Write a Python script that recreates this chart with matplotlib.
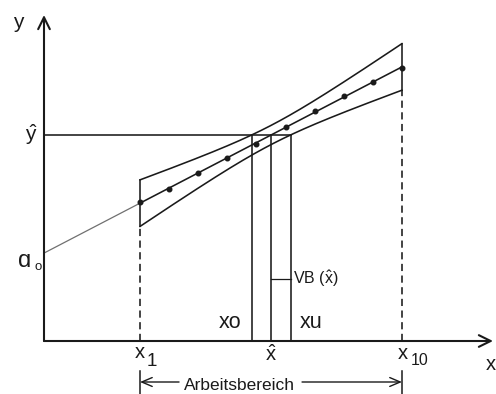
import numpy as np
import matplotlib
matplotlib.use("Agg")
import matplotlib.pyplot as plt
from matplotlib import font_manager

# ---------------- data ----------------
x_std = [3.3, 4.3, 5.3, 6.3, 7.3, 8.3, 9.3, 10.3, 11.3, 12.3]      # standards x1 .. x10
y_std = [4.78, 5.22, 5.77, 6.29, 6.77, 7.35, 7.90, 8.42, 8.90, 9.38]  # measured signals
y_hat = 7.08                 # measured signal of the sample
band_half_center = 0.33      # half width of confidence band at the centroid
band_half_end = 0.80         # half width of confidence band at x1 / x10
vb_level = 2.13              # height of the VB(x^) marker

# ---------------- layout ----------------
S = 29.1                      # pixels per data unit
X_LIM = (-44 / S, 452 / S)
Y_LIM = (-53 / S, 341 / S)
X_TIP = 449 / S
Y_TIP = 326 / S
INK = "#1a1a1a"

names = {f.name for f in font_manager.fontManager.ttflist}
MAIN = "Liberation Sans" if "Liberation Sans" in names else "DejaVu Sans"
NARROW = "Liberation Sans Narrow" if "Liberation Sans Narrow" in names else MAIN
narrow_size = 18 if NARROW != MAIN else 15.5

plt.rcParams["font.family"] = [MAIN, "DejaVu Sans"]
plt.rcParams["mathtext.fontset"] = "custom"
plt.rcParams["mathtext.rm"] = MAIN
plt.rcParams["mathtext.it"] = MAIN + ":italic"
plt.rcParams["mathtext.bf"] = MAIN + ":bold"

fig = plt.figure(figsize=(4.96, 3.94), dpi=100)
ax = fig.add_axes([0, 0, 1, 1])
ax.set_xlim(*X_LIM)
ax.set_ylim(*Y_LIM)
ax.axis("off")

xs = np.array(x_std)
ys = np.array(y_std)
b, a = np.polyfit(xs, ys, 1)
xm = xs.mean()
k = np.sqrt(band_half_end ** 2 - band_half_center ** 2) / (xs[-1] - xm)
xg = np.linspace(xs[0], xs[-1], 500)
fit = a + b * xg
half = np.sqrt(band_half_center ** 2 + (k * (xg - xm)) ** 2)
upper = fit + half
lower = fit - half
x_hat = (y_hat - a) / b
xo = np.interp(y_hat, upper, xg)
xu = np.interp(y_hat, lower, xg)

LW = 1.15
# axes with arrows
arrow_kw = dict(arrowstyle="->,head_length=0.85,head_width=0.42", lw=1.5,
                color=INK, shrinkA=0, shrinkB=0)
ax.annotate("", xy=(X_TIP, 0), xytext=(0, 0), arrowprops=arrow_kw)
ax.annotate("", xy=(0, Y_TIP), xytext=(0, 0), arrowprops=arrow_kw)

# extrapolation to the intercept a0
ax.plot([0, xs[0]], [a, a + b * xs[0]], color="#707070", lw=0.9)
# regression line and confidence band
ax.plot(xg, fit, color=INK, lw=LW)
ax.plot(xg, upper, color=INK, lw=LW)
ax.plot(xg, lower, color=INK, lw=LW)
# end lines of band
for i in (0, -1):
    ax.plot([xs[i], xs[i]], [lower[i], upper[i]], color=INK, lw=LW)
    ax.plot([xs[i], xs[i]], [0, lower[i]], color=INK, lw=LW,
            linestyle=(0, (4.5, 2.8)))
# calibration points
ax.plot(xs, ys, "o", ms=3.3, color=INK, mec=INK)
# y_hat construction
ax.plot([0, xu], [y_hat, y_hat], color=INK, lw=LW)
for xv in (xo, x_hat, xu):
    ax.plot([xv, xv], [0, y_hat], color=INK, lw=LW)
ax.plot([x_hat, xu], [vb_level, vb_level], color=INK, lw=0.9)


def lab(txt, xy, dx, dy, size=14.5, ha="center", va="baseline", family=None):
    ax.annotate(txt, xy=xy, xytext=(dx, dy), textcoords="offset pixels",
                ha=ha, va=va, fontsize=size, color=INK,
                family=family if family else [MAIN, "DejaVu Sans"])


lab("y", (0, Y_TIP), -26, -13, size=15)
lab(r"$\hat{\mathrm{y}}$", (0, y_hat), -13, 0, size=15, va="center")
lab("ɑ", (0, a), -19, -14, size=17)
lab("o", (0, a), -6, -17, size=9.5)
lab("x", (xs[0], 0), -5, -17, size=14.5, ha="left")
lab("1", (xs[0], 0), 6.5, -25, size=13.5, ha="left")
lab("x", (xs[-1], 0), -4, -18, size=14.5, ha="left")
lab("10", (xs[-1], 0), 8.5, -24, size=11.5, ha="left")
lab(r"$\hat{\mathrm{x}}$", (x_hat, 0), 0, -3, size=14.5, va="top")
lab("x", (X_TIP, 0), -2, -29, size=14.5)
lab("xo", (xo, 0), -10, 13, size=narrow_size, ha="right", family=[NARROW, "DejaVu Sans"])
lab("xu", (xu, 0), 9, 13, size=narrow_size, ha="left", family=[NARROW, "DejaVu Sans"])
lab(r"VB ($\hat{\mathrm{x}}$)", (xu, vb_level), 2.5, 0, size=11.5, ha="left", va="center")

# Arbeitsbereich
arb_y = -41 / S
tick_top = -30 / S
for xv in (xs[0], xs[-1]):
    ax.plot([xv, xv], [tick_top, Y_LIM[0]], color=INK, lw=1.1)
small_arrow = dict(arrowstyle="->,head_length=0.75,head_width=0.32", lw=1.0,
                   color=INK, shrinkA=0, shrinkB=0)
ax.annotate("", xy=(xs[0], arb_y), xytext=(xs[0] + 39 / S, arb_y), arrowprops=small_arrow)
ax.annotate("", xy=(xs[-1], arb_y), xytext=(xs[0] + 162 / S, arb_y), arrowprops=small_arrow)
lab("Arbeitsbereich", (xs[0], 0), 44, -49, size=12.5, ha="left")

fig.savefig("out.png", dpi=100, facecolor="white")
